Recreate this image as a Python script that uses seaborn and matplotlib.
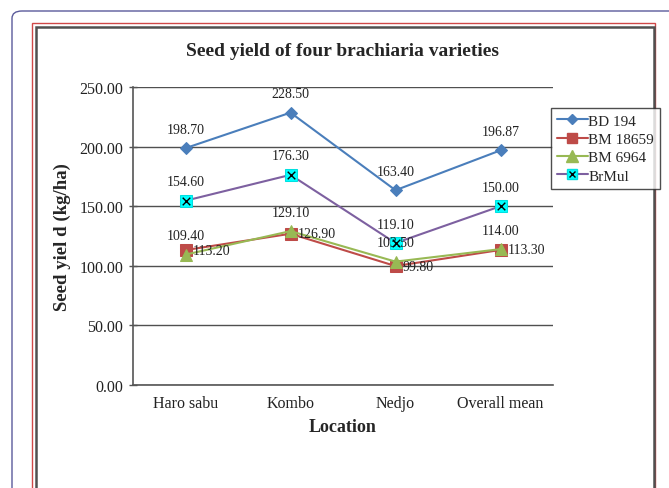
import matplotlib
matplotlib.use("Agg")
import matplotlib.pyplot as plt
from matplotlib.patches import FancyBboxPatch, Rectangle
from matplotlib.lines import Line2D
import seaborn as sns
import pandas as pd

locations = ["Haro sabu", "Kombo", "Nedjo", "Overall mean"]
bd194 = [198.70, 228.50, 163.40, 196.87]
bm18659 = [113.20, 126.90, 99.80, 113.30]
bm6964 = [109.40, 129.10, 103.50, 114.00]
brmul = [154.60, 176.30, 119.10, 150.00]
yticks = [0, 50, 100, 150, 200, 250]

series = {"BD 194": bd194, "BM 18659": bm18659, "BM 6964": bm6964, "BrMul": brmul}
rows = []
for name, vals in series.items():
    for loc, v in zip(locations, vals):
        rows.append({"Location": loc, "Yield": v, "Variety": name})
df = pd.DataFrame(rows)

sns.set_theme(style="white")
plt.rcParams["font.family"] = ["Liberation Serif", "DejaVu Serif"]

W, H = 669, 489
fig = plt.figure(figsize=(W / 100, H / 100), dpi=100)

def fx(px):
    return px / W

def fy(py):
    return 1 - py / H

# Frames
fig.patches.append(FancyBboxPatch((fx(12), fy(560)), fx(700), (560 - 12) / H,
                                  boxstyle="round,pad=0,rounding_size=0.015",
                                  transform=fig.transFigure, fill=False,
                                  edgecolor="#5b5b9b", linewidth=1.0, zorder=0))
fig.patches.append(Rectangle((fx(32), fy(520)), fx(655 - 32), (520 - 24) / H,
                             transform=fig.transFigure, fill=False,
                             edgecolor="#d04848", linewidth=1.0, zorder=0))
fig.patches.append(Rectangle((fx(35.5), fy(520)), fx(654 - 35.5), (520 - 27.5) / H,
                             transform=fig.transFigure, fill=False,
                             edgecolor="#505050", linewidth=1.8, zorder=0))

ax = fig.add_axes([fx(133), fy(386), fx(553 - 133), (386 - 88) / H])
ax.set_facecolor("none")

styles = {
    "BD 194": dict(color="#4A7EBB", marker="D", ms=6, mfc="#4A7EBB", mec="#4A7EBB"),
    "BM 18659": dict(color="#BE4B48", marker="s", ms=8, mfc="#BE4B48", mec="#BE4B48"),
    "BM 6964": dict(color="#98B954", marker="^", ms=9, mfc="#98B954", mec="#98B954"),
    "BrMul": dict(color="#7D60A0", marker="s", ms=8.5, mfc="#00FFFF", mec="#00E0E0"),
}

for name, st in styles.items():
    sub = df[df["Variety"] == name]
    sns.lineplot(data=sub, x="Location", y="Yield", ax=ax, color=st["color"],
                 marker=st["marker"], markersize=st["ms"], markerfacecolor=st["mfc"],
                 markeredgecolor=st["mec"], linewidth=1.5, sort=False, legend=False,
                 zorder=3)

sub = df[df["Variety"] == "BrMul"]
sns.scatterplot(data=sub, x="Location", y="Yield", ax=ax, marker="x", color="black",
                s=30, linewidth=1.0, zorder=4, legend=False)

# data labels
lab_kw = dict(fontsize=10, color="#222222", textcoords="offset points")
for name in ["BD 194", "BM 6964", "BrMul"]:
    for i, v in enumerate(series[name]):
        ax.annotate(f"{v:.2f}", (i, v), xytext=(0, 9), ha="center", va="bottom", **lab_kw)
for i, v in enumerate(bm18659):
    ax.annotate(f"{v:.2f}", (i, v), xytext=(5, 0), ha="left", va="center", **lab_kw)

ax.set_xlim(-0.5, 3.5)
ax.set_ylim(0, 250)
ax.set_yticks(yticks)
ax.set_yticklabels([f"{t:.2f}" for t in yticks])
ax.set_xticks(range(len(locations)))
ax.set_xticklabels(locations)
ax.set_xticks([-0.5, 0.5, 1.5, 2.5, 3.5], minor=True)
ax.tick_params(axis="x", which="major", length=0, labelsize=11.5, pad=7)
ax.tick_params(axis="x", which="minor", length=4, width=1, direction="out", color="#555555")
ax.tick_params(axis="y", which="major", length=6, width=1, direction="inout",
               labelsize=11.5, pad=4, color="#555555", left=True)
for lbl in ax.get_yticklabels() + ax.get_xticklabels():
    lbl.set_color("#222222")

ax.grid(axis="y", color="#505050", linewidth=1.0)
ax.grid(axis="x", visible=False)
for side in ["top", "right"]:
    ax.spines[side].set_visible(False)
ax.spines["left"].set_color("#555555")
ax.spines["bottom"].set_color("#555555")
ax.spines["left"].set_linewidth(1.2)
ax.spines["bottom"].set_linewidth(1.2)
ax.set_axisbelow(True)

ax.set_xlabel("Location", fontsize=13, fontweight="bold", labelpad=5)
ax.set_ylabel("Seed yiel d (kg/ha)", fontsize=13.5, fontweight="bold", labelpad=6)
fig.text(fx(342), fy(52), "Seed yield of four brachiaria varieties", ha="center",
         va="center", fontsize=14, fontweight="bold")

handles = []
labels = []
for name, st in styles.items():
    h = Line2D([], [], color=st["color"], marker=st["marker"], markersize=st["ms"] * 0.9,
               markerfacecolor=st["mfc"], markeredgecolor=st["mec"], linewidth=1.5)
    if name == "BrMul":
        h = (h, Line2D([], [], color="black", marker="x", linestyle="none", markersize=5))
    handles.append(h)
    labels.append(name)
leg = fig.legend(handles, labels, loc="upper left",
                 bbox_to_anchor=(fx(551), fy(109)), frameon=True, fancybox=False,
                 fontsize=11, handlelength=2.0, handletextpad=0.05, borderpad=0.4,
                 labelspacing=0.3, borderaxespad=0)
leg.get_frame().set_edgecolor("#222222")
leg.get_frame().set_linewidth(1.0)

fig.savefig("out.png", dpi=100)
